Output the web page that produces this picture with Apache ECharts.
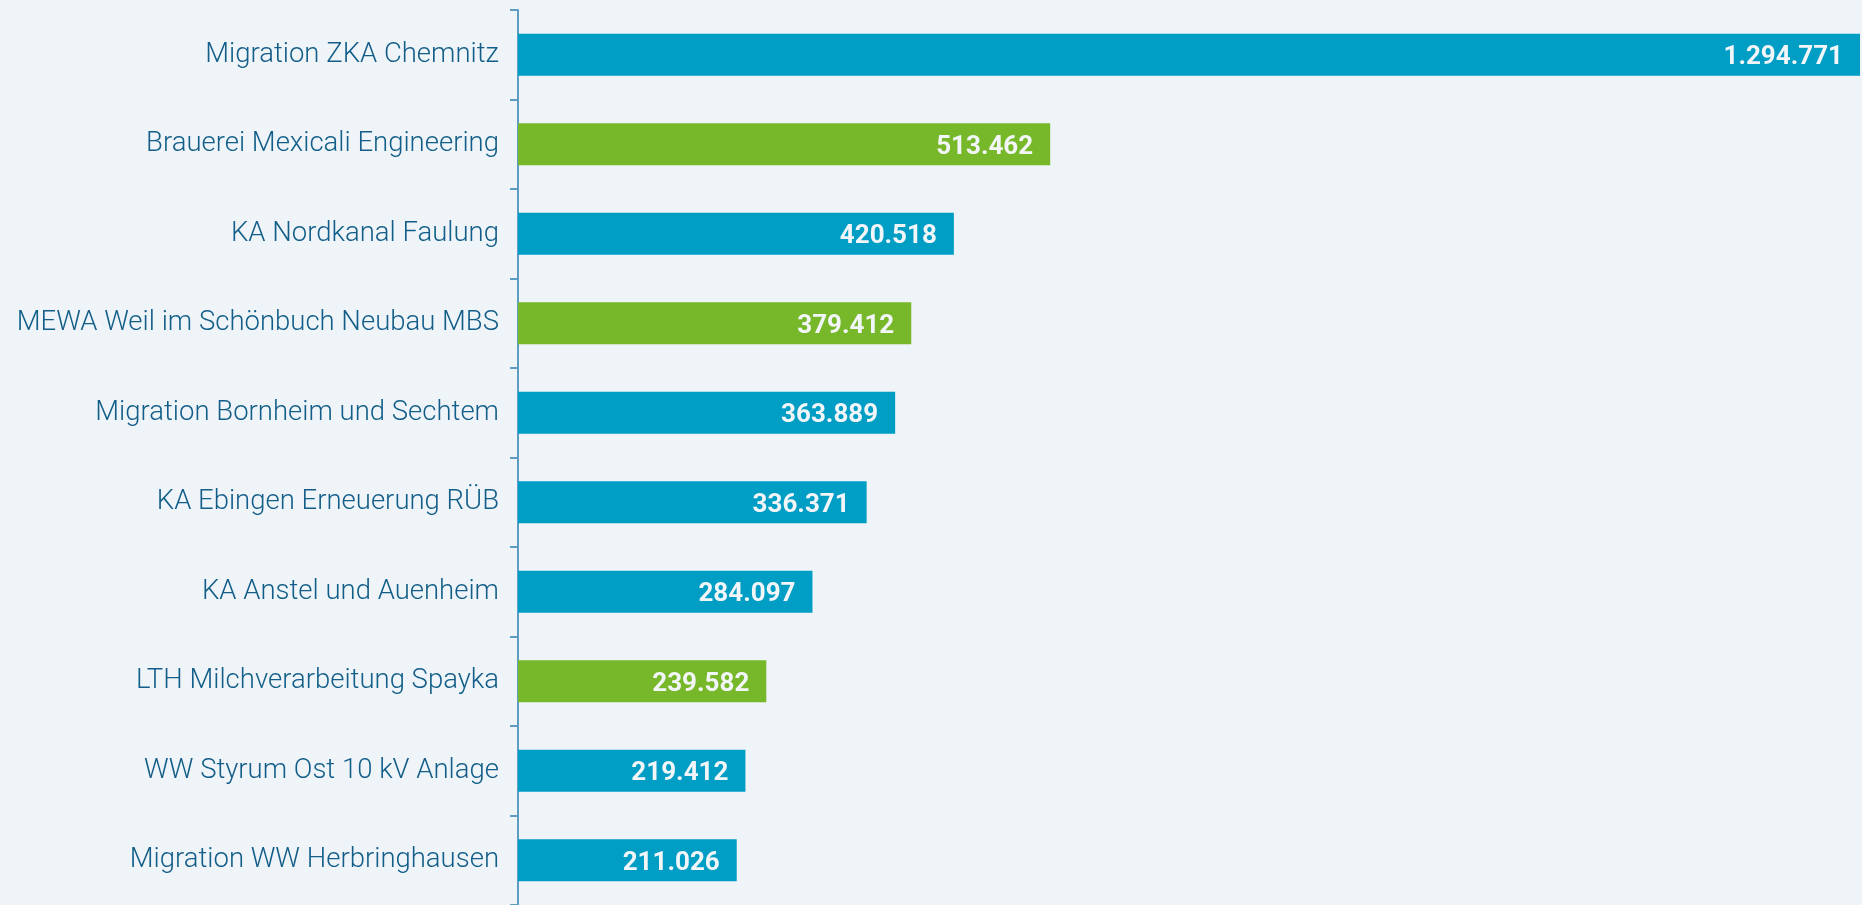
<!DOCTYPE html>
<html>
<head>
<meta charset="utf-8">
<script src="https://cdn.jsdelivr.net/npm/echarts@6/dist/echarts.min.js"></script>
<style>
  html, body { margin: 0; padding: 0; background: #eff4f9; }
  #chart { width: 1862px; height: 905px; }
</style>
</head>
<body>
<div id="chart"></div>
<script>
// Projekte, von oben nach unten
const projects = [
  'Migration ZKA Chemnitz',
  'Brauerei Mexicali Engineering',
  'KA Nordkanal Faulung',
  'MEWA Weil im Schönbuch Neubau MBS',
  'Migration Bornheim und Sechtem',
  'KA Ebingen Erneuerung RÜB',
  'KA Anstel und Auenheim',
  'LTH Milchverarbeitung Spayka',
  'WW Styrum Ost 10 kV Anlage',
  'Migration WW Herbringhausen'
];
const values = [1294771, 513462, 420518, 379412, 363889, 336371, 284097, 239582, 219412, 211026];
// true = Industrie (grün), false = Wasser (blau)
const industry = [false, true, false, true, false, false, false, true, false, false];

const BLUE = '#009dc5';
const GREEN = '#77b82a';

const chart = echarts.init(document.getElementById('chart'));

// Tausenderpunkt wie im Original
function fmt(v) {
  return String(v).replace(/\B(?=(\d{3})+(?!\d))/g, '.');
}

chart.setOption({
  backgroundColor: '#eff4f9',
  animation: false,
  grid: { left: 518, right: 2, top: 10, bottom: 0 },
  xAxis: {
    type: 'value',
    min: 0,
    max: 'dataMax',
    show: false
  },
  yAxis: {
    type: 'category',
    inverse: true,
    data: projects,
    axisLine: { show: true, lineStyle: { color: '#5f9cc2', width: 2 } },
    axisTick: { show: true, length: 8, lineStyle: { color: '#5f9cc2', width: 2 } },
    axisLabel: {
      margin: 19,
      color: '#125e88',
      fontFamily: 'Roboto',
      fontWeight: 300,
      fontSize: 27.5,
      padding: [7, 0, 0, 0]
    },
    splitLine: { show: false }
  },
  series: [{
    type: 'bar',
    barWidth: 42,
    data: values.map((v, i) => ({
      value: v,
      itemStyle: { color: industry[i] ? GREEN : BLUE }
    })),
    label: {
      show: true,
      position: 'insideRight',
      distance: 17,
      offset: [0, 3],
      color: '#f2f6f9',
      fontFamily: 'Roboto',
      fontWeight: 'bold',
      fontSize: 26,
      formatter: p => fmt(p.value)
    }
  }]
});
</script>
</body>
</html>
